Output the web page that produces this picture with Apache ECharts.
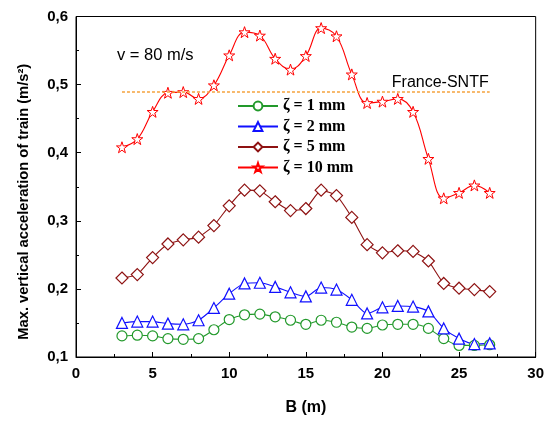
<!DOCTYPE html>
<html><head><meta charset="utf-8">
<script src="https://cdn.jsdelivr.net/npm/echarts@6/dist/echarts.min.js"></script>
<style>html,body{margin:0;padding:0;background:#fff}#c{width:547px;height:421px}</style>
</head><body><div id="c"></div>
<script>
var B = [3,4,5,6,7,8,9,10,11,12,13,14,15,16,17,18,19,20,21,22,23,24,25,26,27];
var zeta1 = [0.131,0.132,0.131,0.127,0.126,0.127,0.140,0.155,0.162,0.163,0.159,0.154,0.148,0.154,0.151,0.144,0.142,0.147,0.148,0.148,0.142,0.127,0.117,0.117,0.118];
var zeta2 = [0.150,0.152,0.152,0.149,0.148,0.154,0.172,0.193,0.208,0.209,0.203,0.195,0.189,0.202,0.199,0.184,0.164,0.173,0.175,0.174,0.167,0.142,0.127,0.119,0.120];
var zeta5 = [0.216,0.221,0.246,0.266,0.272,0.276,0.293,0.322,0.345,0.344,0.328,0.315,0.318,0.345,0.337,0.305,0.265,0.253,0.256,0.255,0.241,0.208,0.201,0.199,0.196];
var zeta10 = [0.408,0.420,0.460,0.488,0.489,0.479,0.499,0.543,0.577,0.572,0.538,0.522,0.542,0.583,0.571,0.515,0.473,0.475,0.479,0.460,0.391,0.333,0.341,0.352,0.341];
var seriesNames = ['ζ = 1 mm','ζ = 2 mm','ζ = 5 mm','ζ = 10 mm'];
var refName = 'France-SNTF';
var refValue = 0.49;
var refRange = [3, 27];
var speedNote = 'v = 80 m/s';

function pairs(xs, ys){ return xs.map(function(x,i){ return [x, ys[i]]; }); }
var starPath = 'path://M50,2 L61.5,36 L97,36 L68.5,57.5 L79.5,92 L50,71 L20.5,92 L31.5,57.5 L3,36 L38.5,36 Z';

var chart = echarts.init(document.getElementById('c'), null, {renderer:'canvas'});
var axisFont = {fontFamily:'Liberation Sans, Arial, sans-serif', fontWeight:'bold', fontSize:15, color:'#000'};
function mk(name, data, color, symbol, size, smooth, bw){
  return {name:name, type:'line', data:data, smooth:smooth, symbol:symbol, symbolSize:size,
    lineStyle:{color:color, width:1.1}, itemStyle:{color:'#fff', borderColor:color, borderWidth:bw},
    emphasis:{disabled:true}, z:3};
}
var refData = refRange.map(function(x){ return [x, refValue]; });
var option = {
  animation:false,
  backgroundColor:'#fff',
  grid:{left:76, right:11, top:16.5, bottom:64, show:true, borderColor:'#000', borderWidth:1},
  legend:{
    data:seriesNames, orient:'vertical', left:237, top:98, padding:0, itemWidth:40, itemHeight:11, itemGap:4.5,
    textStyle:{fontFamily:'Liberation Serif, Times New Roman, serif', fontWeight:'bold', fontSize:16, color:'#000'},
    selectedMode:false
  },
  xAxis:{
    type:'value', min:0, max:30, interval:5,
    name:'B (m)', nameLocation:'middle', nameGap:43,
    nameTextStyle:{fontFamily:'Liberation Sans, Arial, sans-serif', fontWeight:'bold', fontSize:16, color:'#000'},
    axisLine:{onZero:false, lineStyle:{color:'#000', width:1}},
    axisTick:{inside:true, length:5, lineStyle:{color:'#000'}},
    minorTick:{show:true, splitNumber:2, length:3, lineStyle:{color:'#000'}},
    axisLabel:Object.assign({margin:9}, axisFont),
    splitLine:{show:false}
  },
  yAxis:{
    type:'value', min:0.1, max:0.6, interval:0.1,
    name:'Max. vertical acceleration of train (m/s²)', nameLocation:'middle', nameGap:45,
    nameTextStyle:{fontFamily:'Liberation Sans, Arial, sans-serif', fontWeight:'bold', fontSize:14.7, color:'#000', padding:[0,30,0,0]},
    axisLine:{onZero:false, lineStyle:{color:'#000', width:1}},
    axisTick:{inside:true, length:5, lineStyle:{color:'#000'}},
    minorTick:{show:true, splitNumber:2, length:3, lineStyle:{color:'#000'}},
    axisLabel:Object.assign({margin:8, formatter:function(v){ return v.toFixed(1).replace('.', ','); }}, axisFont),
    splitLine:{show:false}
  },
  graphic:[{type:'text', left:117, top:47, style:{text:speedNote, fontFamily:'Liberation Sans, Arial, sans-serif', fontSize:16.5, fill:'#000'}}],
  series:[
    {name:refName, type:'line', data:[], silent:true, z:2,
      markLine:{silent:true, symbol:'none', animation:false,
        lineStyle:{color:'#f5a33c', width:1.6, type:[3,2]},
        label:{show:true, position:'insideEndTop', formatter:refName, distance:1,
          fontFamily:'Liberation Sans, Arial, sans-serif', fontSize:16, color:'#000'},
        emphasis:{disabled:true},
        data:[[{coord:refData[0]},{coord:refData[1]}]]}},
    mk(seriesNames[0], pairs(B, zeta1), '#22992b', 'circle', 10, 0.25, 1.2),
    mk(seriesNames[1], pairs(B, zeta2), '#1010ff', 'triangle', 11, 0.25, 1.2),
    mk(seriesNames[2], pairs(B, zeta5), '#8e1212', 'diamond', 12, 0.15, 1.2),
    mk(seriesNames[3], pairs(B, zeta10), '#ff0000', starPath, 11, 0.4, 1)
  ]
};
chart.setOption(option);
</script></body></html>
